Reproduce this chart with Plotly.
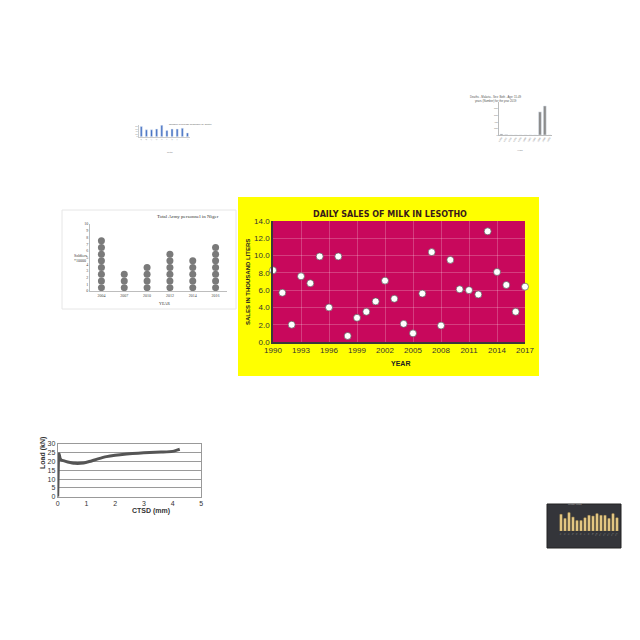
import plotly.graph_objects as go

# ---------------- data ----------------
# Main chart: Daily sales of milk in Lesotho
milk_years = list(range(1990, 2018))
milk_sales = [8.3, 5.7, 2.0, 7.6, 6.8, 9.9, 4.0, 9.9, 0.7, 2.8, 3.5, 4.7,
              7.1, 5.0, 2.1, 1.0, 5.6, 10.4, 1.9, 9.5, 6.1, 6.0, 5.5, 12.8,
              8.1, 6.6, 3.5, 6.4]

# Army pictograph
army_years = ["2004", "2007", "2010", "2012", "2014", "2016"]
army_counts = [8, 3, 4, 6, 5, 7]

# Load vs CTSD curve
ctsd = [0.0, 0.01, 0.02, 0.03, 0.05, 0.08, 0.12, 0.2, 0.35, 0.6, 0.9, 1.1,
        1.4, 1.7, 2.0, 2.4, 2.8, 3.2, 3.6, 4.0, 4.15, 4.25]
load = [0.0, 8.0, 16.0, 22.0, 24.5, 22.0, 21.0, 20.5, 19.8, 19.0, 19.2,
        20.0, 21.5, 22.8, 23.6, 24.3, 24.8, 25.1, 25.4, 25.8, 26.5, 27.0]

# Blue thumbnail
blue_cats = ["A", "B", "C", "D", "E", "F", "G", "H", "I", "J"]
blue_vals = [79, 53, 53, 59, 88, 47, 59, 59, 65, 29]

# Grey thumbnail
grey_cats = ["1990", "1992", "1994", "1996", "1998", "2000", "2002", "2004",
             "2006", "2008", "2010"]
grey_vals = [30, 10, 0, 0, 0, 0, 0, 0, 700, 880, 0]
grey_ticks = [0, 200, 400, 600, 800]

# Dark thumbnail
dark_cats = ["c%d" % i for i in range(1, 16)]
dark_vals = [48, 36, 53, 40, 30, 30, 38, 45, 43, 50, 45, 45, 36, 50, 38]


def px(x):
    return x / 640.0


def py(y):
    return 1 - y / 640.0


fig = go.Figure()

# ---------------- main scatter ----------------
fig.add_trace(go.Scatter(
    x=milk_years, y=milk_sales, mode="markers", xaxis="x", yaxis="y",
    marker=dict(size=7, color="white",
                line=dict(width=1, color="rgba(90,90,90,0.7)")),
    cliponaxis=False, showlegend=False))

# ---------------- army pictograph ----------------
ax, ay = [], []
for cat, n in zip(army_years, army_counts):
    for k in range(n):
        ax.append(cat)
        ay.append(k + 0.5)
fig.add_trace(go.Scatter(
    x=ax, y=ay, mode="markers", xaxis="x2", yaxis="y2",
    marker=dict(size=7, color="#7a7a7a"), showlegend=False))

# ---------------- load curve ----------------
fig.add_trace(go.Scatter(
    x=ctsd, y=load, mode="lines", xaxis="x3", yaxis="y3",
    line=dict(color="#555555", width=3, shape="spline", smoothing=0.6),
    showlegend=False))

# ---------------- thumbnails ----------------
fig.add_trace(go.Bar(x=blue_cats, y=blue_vals, xaxis="x4", yaxis="y4",
                     marker_color="#4a74c4", width=0.4, showlegend=False))
fig.add_trace(go.Bar(x=grey_cats, y=grey_vals, xaxis="x5", yaxis="y5",
                     marker_color="#8c8c8c", width=0.6, showlegend=False))
fig.add_trace(go.Bar(x=dark_cats, y=dark_vals, xaxis="x6", yaxis="y6",
                     marker=dict(color="#e9cf8c",
                                 line=dict(color="#c9a75a", width=0.5)),
                     width=0.55, showlegend=False))

tick_font = dict(family="Liberation Sans, Arial, sans-serif", size=8,
                 color="#333333")

shapes = [
    # yellow panel
    dict(type="rect", xref="paper", yref="paper", x0=px(238), x1=px(539),
         y0=py(376), y1=py(197), fillcolor="#ffff00", line_width=0,
         layer="below"),
    # magenta plot background
    dict(type="rect", xref="x domain", yref="y domain", x0=0, x1=1, y0=0,
         y1=1, fillcolor="#c8085c", line_width=0, layer="below"),
    # army chart frame
    dict(type="rect", xref="paper", yref="paper", x0=px(62), x1=px(236),
         y0=py(309), y1=py(210), fillcolor="white",
         line=dict(color="#e6e6e6", width=1), layer="below"),
    # dark thumbnail background
    dict(type="rect", xref="paper", yref="paper", x0=px(547), x1=px(621),
         y0=py(548), y1=py(504), fillcolor="#34353a",
         line=dict(color="#222", width=1), layer="below"),
]

annotations = [
    dict(text="<b>DAILY SALES OF MILK IN LESOTHO</b>", x=px(390), y=py(208),
         xref="paper", yref="paper", showarrow=False,
         font=dict(family="DejaVu Sans, sans-serif", size=8, color="#3a1a1a")),
    dict(text="<b>SALES IN THOUSAND LITERS</b>", x=px(248), y=py(282),
         xref="paper", yref="paper", showarrow=False, textangle=-90,
         font=dict(family="Liberation Sans, Arial", size=6, color="#222")),
    dict(text="<b>YEAR</b>", x=px(400), y=py(363), xref="paper", yref="paper",
         showarrow=False,
         font=dict(family="Liberation Sans, Arial", size=7, color="#222")),
    # army
    dict(text="Total Army personnel in Niger", x=px(155), y=py(216),
         xref="paper", yref="paper", showarrow=False,
         font=dict(family="Liberation Serif, serif", size=5, color="#333")),
    dict(text="Soldiers<br>*10000", x=px(72), y=py(258), xref="paper",
         yref="paper", showarrow=False, align="left",
         font=dict(family="Liberation Serif, serif", size=4, color="#333")),
    dict(text="YEAR", x=px(157), y=py(303), xref="paper", yref="paper",
         showarrow=False,
         font=dict(family="Liberation Serif, serif", size=4, color="#333")),
    # load
    dict(text="<b>Load (kN)</b>", x=px(37), y=py(471), xref="paper",
         yref="paper", showarrow=False, textangle=-90,
         font=dict(family="Liberation Sans, Arial", size=7, color="#333")),
    dict(text="<b>CTSD (mm)</b>", x=px(130), y=py(517), xref="paper",
         yref="paper", showarrow=False,
         font=dict(family="Liberation Sans, Arial", size=7, color="#333")),
    # blue thumbnail
    dict(text="Number of foreign personnel by sector", x=px(167),
         y=py(121), xref="paper", yref="paper", showarrow=False,
         font=dict(family="Liberation Sans, Arial", size=2.5, color="#555")),
    dict(text="Sector", x=px(165), y=py(149), xref="paper", yref="paper",
         showarrow=False,
         font=dict(family="Liberation Sans, Arial", size=2, color="#777")),
    # grey thumbnail
    dict(text="Deaths - Malaria - Sex: Both - Age: 15-49<br>"
              "years (Number) for the year 2019",
         x=px(524), y=py(93), xref="paper", yref="paper", showarrow=False,
         font=dict(family="Liberation Sans, Arial", size=2.8, color="#555")),
    dict(text="Years", x=px(525), y=py(147), xref="paper", yref="paper",
         showarrow=False,
         font=dict(family="Liberation Sans, Arial", size=2.2, color="#777")),
    # dark thumbnail
    dict(text="Monthly totals", x=px(584), y=py(507), xref="paper",
         yref="paper", showarrow=False,
         font=dict(family="Liberation Sans, Arial", size=2.2, color="#bbb")),
]

fig.update_layout(
    width=640, height=640,
    margin=dict(l=0, r=0, t=0, b=0, pad=0, autoexpand=False),
    paper_bgcolor="white", plot_bgcolor="rgba(0,0,0,0)",
    shapes=shapes, annotations=annotations,
    # main
    xaxis=dict(domain=[px(273), px(525)], anchor="y", range=[1990, 2017],
               tick0=1990, dtick=3, showgrid=True,
               gridcolor="rgba(255,255,255,0.22)", gridwidth=1,
               zeroline=False, showline=True, linecolor="#3a3a3a",
               linewidth=1.5, ticks="", tickfont=tick_font, automargin=False),
    yaxis=dict(domain=[py(342), py(221)], anchor="x", range=[0, 14],
               dtick=2, tickformat=".1f", showgrid=True,
               gridcolor="rgba(255,255,255,0.22)", gridwidth=1,
               zeroline=False, showline=True, linecolor="#3a3a3a",
               linewidth=1.5, ticks="", tickfont=tick_font, automargin=False),
    # army
    xaxis2=dict(domain=[px(90), px(227)], anchor="y2", type="category",
                range=[-0.5, 5.5], showgrid=False, zeroline=False,
                showline=True, linecolor="#bdbdbd", linewidth=1,
                ticks="", automargin=False,
                tickfont=dict(family="Liberation Serif, serif", size=4,
                              color="#444")),
    yaxis2=dict(domain=[py(291), py(224)], anchor="x2", range=[0, 10],
                dtick=1, showgrid=False, zeroline=False, showline=True,
                linecolor="#bdbdbd", linewidth=1, ticks="", automargin=False,
                tickfont=dict(family="Liberation Serif, serif", size=4,
                              color="#444")),
    # load
    xaxis3=dict(domain=[px(57.7), px(201.3)], anchor="y3", range=[0, 5],
                dtick=1, showgrid=False, zeroline=False, showline=True,
                mirror=True, linecolor="#999", linewidth=1, ticks="",
                automargin=False,
                tickfont=dict(family="Liberation Sans, Arial", size=7,
                              color="#333")),
    yaxis3=dict(domain=[py(496.7), py(444)], anchor="x3", range=[0, 30],
                dtick=5, showgrid=True, gridcolor="#9a9a9a", gridwidth=1,
                zeroline=False, showline=True, mirror=True, linecolor="#999",
                linewidth=1, ticks="", automargin=False,
                tickfont=dict(family="Liberation Sans, Arial", size=7,
                              color="#333")),
    # blue thumbnail
    xaxis4=dict(domain=[px(138.7), px(190)], anchor="y4", showgrid=False,
                zeroline=False, showline=True, linecolor="#ccc",
                linewidth=0.5, ticks="", tickangle=-60, automargin=False,
                tickfont=dict(size=2, color="#888")),
    yaxis4=dict(domain=[py(136.7), py(125)], anchor="x4", range=[0, 90],
                showgrid=False, zeroline=False, showline=True,
                linecolor="#ccc", linewidth=0.5, ticks="", automargin=False,
                tickfont=dict(size=2, color="#888")),
    # grey thumbnail
    xaxis5=dict(domain=[px(499), px(552)], anchor="y5", showgrid=False,
                zeroline=False, showline=True, linecolor="#bbb",
                linewidth=0.5, ticks="", tickangle=-60, automargin=False,
                tickfont=dict(size=2.2, color="#777")),
    yaxis5=dict(domain=[py(135), py(102)], anchor="x5", range=[0, 1000],
                tickvals=grey_ticks, showgrid=False, zeroline=False,
                showline=True, linecolor="#bbb", linewidth=0.5, ticks="",
                automargin=False, tickfont=dict(size=2.2, color="#777")),
    # dark thumbnail
    xaxis6=dict(domain=[px(559), px(619)], anchor="y6", showgrid=False,
                zeroline=False, showline=False, ticks="", tickangle=-50,
                automargin=False, tickfont=dict(size=2, color="#999")),
    yaxis6=dict(domain=[py(531), py(512)], anchor="x6", range=[0, 55],
                showgrid=False, zeroline=False, showline=False, ticks="",
                showticklabels=False, automargin=False),
)

fig.write_html("out.html")
